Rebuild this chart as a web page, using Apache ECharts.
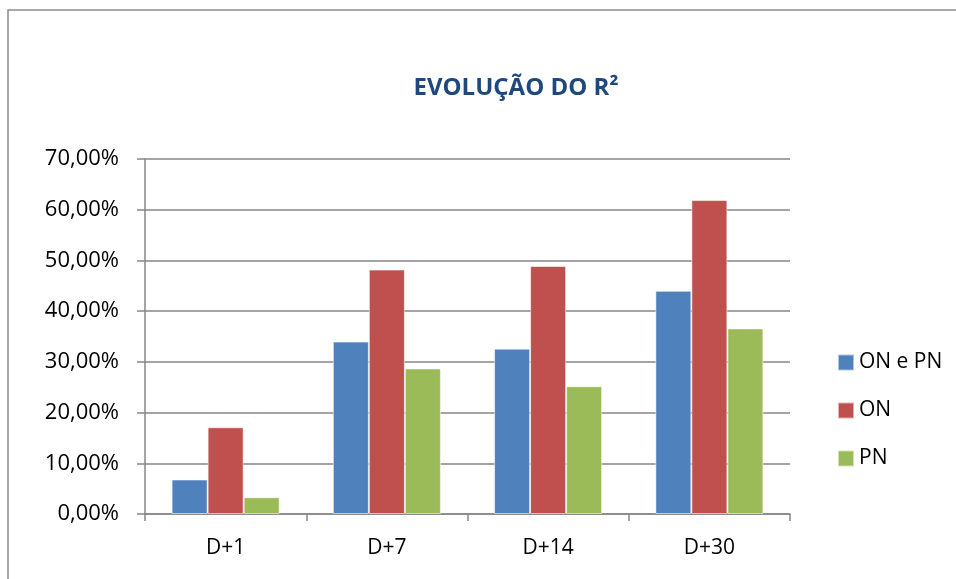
<!DOCTYPE html>
<html>
<head>
<meta charset="utf-8">
<script src="https://cdn.jsdelivr.net/npm/echarts@6/dist/echarts.min.js"></script>
<style>
    html, body { margin: 0; padding: 0; background: #fff; }
    #chart { width: 956px; height: 579px; }
</style>
</head>
<body>
<div id="chart"></div>
<script>
    // valores em %
    let categories = ["D+1", "D+7", "D+14", "D+30"];
    let seriesNames = ["ON e PN", "ON", "PN"];
    let onPn = [6.8, 34.0, 32.6, 44.0];
    let on = [17.1, 48.2, 48.9, 61.9];
    let pn = [3.3, 28.7, 25.2, 36.6];
    let yTicks = [0, 10, 20, 30, 40, 50, 60, 70];

    let color = ["#4F81BD", "#C0504D", "#9BBB59"];
    let font = "'Open Sans', sans-serif";

    let fmt = function(v) {
        return v.toFixed(2).replace('.', ',') + '%';
    };

    let makeSeries = function(name, data) {
        return {
            name: name,
            type: "bar",
            barGap: "0%",
            barCategoryGap: "33%",
            itemStyle: {
                borderColor: "rgba(255,255,255,0.55)",
                borderWidth: 1
            },
            data: data
        };
    };

    let option = {
        color: color,
        animation: false,
        graphic: [{
            type: "rect",
            shape: { x: 8, y: 10, width: 1200, height: 900 },
            style: { fill: "none", stroke: "#8c8c8c", lineWidth: 1.5 }
        }],
        title: {
            text: "EVOLUÇÃO DO R²",
            left: 511,
            textAlign: "center",
            top: 71,
            textStyle: {
                color: "#1F497D",
                fontFamily: font,
                fontWeight: "bold",
                fontSize: 24
            }
        },
        legend: {
            orient: "vertical",
            left: 832,
            top: 347,
            itemWidth: 16,
            itemHeight: 16,
            itemGap: 27,
            icon: "rect",
            textStyle: {
                color: "#000",
                fontFamily: font,
                fontSize: 21
            },
            data: seriesNames
        },
        grid: {
            left: 145,
            right: 166,
            top: 159,
            bottom: 65
        },
        xAxis: {
            type: "category",
            data: categories,
            axisLine: { lineStyle: { color: "#868686", width: 1.5 } },
            axisTick: { show: true, length: 7, inside: false, lineStyle: { color: "#868686", width: 1.5 } },
            axisLabel: {
                color: "#000",
                fontFamily: font,
                fontSize: 21,
                margin: 24
            }
        },
        yAxis: {
            type: "value",
            min: yTicks[0],
            max: yTicks[yTicks.length - 1],
            interval: 10,
            axisLine: { show: true, lineStyle: { color: "#868686", width: 1.5 } },
            axisTick: { show: true, length: 8, lineStyle: { color: "#868686", width: 1.5 } },
            splitLine: { lineStyle: { color: "#868686", width: 1.5 } },
            axisLabel: {
                color: "#000",
                fontFamily: font,
                fontSize: 22,
                margin: 26,
                formatter: fmt
            }
        },
        series: [
            makeSeries(seriesNames[0], onPn),
            makeSeries(seriesNames[1], on),
            makeSeries(seriesNames[2], pn)
        ]
    };

    let myChart = echarts.init(document.getElementById("chart"));
    myChart.setOption(option);
    window.addEventListener("resize", function() {
        myChart.resize();
    });
</script>
</body>
</html>
